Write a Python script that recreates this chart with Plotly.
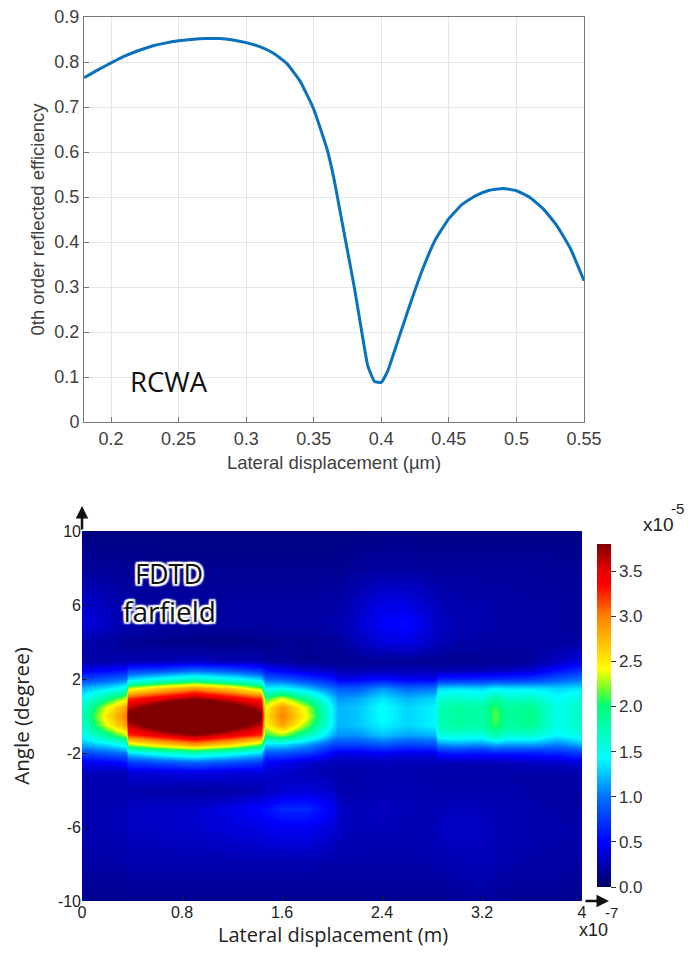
import numpy as np
import plotly.graph_objects as go

W, H = 692, 956

# --- RCWA line ---
rcwa_x = [.18,.19,.2,.21,.22,.23,.24,.25,.26,.27,.28,.29,.3,.31,.32,.33,.34,.35,.36,.365,.37,.375,.38,.385,.39,.395,.40,.405,.41,.42,.43,.44,.45,.46,.47,.48,.49,.5,.51,.52,.53,.54,.55]
rcwa_y = [.765,.782,.798,.813,.825,.835,.842,.847,.85,.852,.852,.849,.843,.834,.82,.797,.757,.695,.605,.54,.46,.38,.30,.21,.125,.09,.088,.115,.16,.25,.335,.405,.452,.484,.503,.515,.519,.514,.499,.473,.436,.385,.314]
rcwa_xticks = [.2,.25,.3,.35,.4,.45,.5,.55]
rcwa_xlabels = ["0.2","0.25","0.3","0.35","0.4","0.45","0.5","0.55"]
rcwa_yticks = [0,.1,.2,.3,.4,.5,.6,.7,.8,.9]
rcwa_ylabels = ["0","0.1","0.2","0.3","0.4","0.5","0.6","0.7","0.8","0.9"]

# --- FDTD far-field map (units: x 1e-7 m, angle degree, value 1e-5) ---
fd_x = [0,.2,.35,.37,.6,.9,1.2,1.43,1.46,1.6,1.8,2.02,2.05,2.2,2.4,2.6,2.82,2.85,3.0,3.2,3.3,3.4,3.6,3.8,4.0]
fd_y = [10,8,6,5,4,3,2.5,2,1.5,1,.5,0,-.5,-1,-1.5,-2,-2.5,-3,-4,-5,-6,-8,-10]
col00 = [.1,.18,.34,.38,.24,.22,.45,.8,1.2,1.45,1.6,1.7,1.6,1.45,1.2,.8,.45,.28,.24,.24,.24,.22,.14]
col01 = [.1,.17,.28,.32,.2,.22,.5,.9,1.35,1.9,2.4,2.55,2.4,1.9,1.35,.9,.5,.28,.24,.26,.26,.22,.14]
col02 = [.1,.16,.22,.24,.16,.25,.55,1.0,1.55,2.3,2.85,3.0,2.85,2.3,1.55,1.0,.55,.28,.24,.28,.28,.22,.14]
col03 = [.1,.16,.22,.24,.16,.25,.75,1.3,2.3,3.2,3.6,3.9,3.6,3.2,2.3,1.3,.75,.38,.26,.3,.3,.24,.15]
col04 = [.1,.15,.2,.22,.14,.25,.8,1.5,2.6,3.45,4.0,4.4,4.0,3.45,2.6,1.5,.85,.38,.22,.32,.32,.24,.15]
col05 = [.1,.15,.2,.2,.12,.3,.95,1.7,2.9,3.75,4.6,5.0,4.6,3.75,2.9,1.7,.95,.42,.2,.34,.34,.24,.15]
col06 = [.1,.15,.2,.2,.12,.25,.85,1.5,2.6,3.45,4.0,4.4,4.0,3.45,2.6,1.5,.85,.38,.22,.42,.38,.24,.15]
col07 = [.1,.15,.2,.2,.14,.25,.7,1.3,2.2,3.2,3.6,3.9,3.6,3.2,2.2,1.3,.75,.38,.26,.52,.42,.24,.15]
col08 = [.1,.15,.2,.2,.14,.2,.55,.95,1.4,2.05,2.4,2.5,2.4,2.05,1.35,.85,.5,.33,.28,.54,.44,.24,.15]
col09 = [.1,.15,.2,.22,.15,.2,.45,.9,1.45,2.35,2.9,3.0,2.85,2.25,1.35,.85,.45,.33,.34,.66,.46,.24,.15]
col10 = [.1,.15,.2,.22,.15,.15,.35,.75,1.25,1.85,2.3,2.4,2.2,1.75,1.15,.75,.35,.28,.38,.66,.46,.24,.15]
col11 = [.1,.15,.22,.24,.18,.15,.3,.55,.95,1.2,1.3,1.3,1.3,1.15,.8,.45,.28,.24,.32,.44,.36,.22,.15]
col12 = [.1,.15,.22,.24,.18,.15,.25,.42,.9,1.1,1.2,1.2,1.2,1.1,.8,.42,.28,.22,.24,.32,.32,.22,.15]
col13 = [.11,.18,.3,.34,.28,.15,.25,.46,.9,1.15,1.25,1.25,1.25,1.1,.8,.42,.28,.22,.24,.28,.28,.22,.15]
col14 = [.12,.2,.42,.48,.38,.17,.25,.55,1.1,1.35,1.45,1.45,1.4,1.25,.9,.46,.28,.24,.26,.3,.28,.22,.15]
col15 = [.12,.2,.42,.52,.42,.17,.25,.46,.95,1.2,1.3,1.3,1.3,1.15,.8,.42,.28,.24,.26,.28,.26,.22,.15]
col16 = [.12,.18,.3,.34,.3,.15,.25,.46,1.0,1.3,1.4,1.4,1.4,1.2,.85,.42,.27,.22,.24,.26,.28,.24,.15]
col17 = [.12,.18,.28,.32,.28,.15,.25,.65,1.3,1.6,1.75,1.75,1.75,1.55,1.1,.55,.28,.22,.24,.26,.3,.24,.15]
col18 = [.12,.18,.24,.26,.22,.15,.25,.65,1.35,1.65,1.85,1.85,1.85,1.6,1.15,.6,.28,.22,.24,.3,.32,.26,.16]
col19 = [.12,.18,.24,.24,.22,.15,.27,.67,1.3,1.6,1.8,1.8,1.8,1.55,1.1,.55,.28,.22,.24,.28,.3,.28,.19]
col20 = [.12,.18,.22,.24,.2,.17,.3,.7,1.4,1.85,2.1,2.15,2.1,1.8,1.2,.6,.28,.22,.24,.26,.28,.26,.17]
col21 = [.12,.18,.22,.22,.2,.17,.3,.7,1.35,1.65,1.85,1.85,1.85,1.6,1.15,.6,.28,.22,.24,.26,.26,.24,.15]
col22 = [.12,.18,.2,.22,.2,.19,.35,.75,1.35,1.7,1.9,1.95,1.9,1.65,1.15,.6,.3,.22,.22,.24,.24,.22,.15]
col23 = [.12,.17,.2,.2,.2,.3,.55,.9,1.3,1.45,1.5,1.5,1.5,1.4,1.05,.65,.33,.22,.22,.22,.24,.22,.15]
col24 = [.12,.16,.18,.18,.2,.4,.7,1.0,1.35,1.6,1.7,1.7,1.7,1.55,1.2,.75,.38,.24,.2,.2,.22,.2,.13]
fd_columns = [col00,col01,col02,col03,col04,col05,col06,col07,col08,col09,col10,col11,col12,
              col13,col14,col15,col16,col17,col18,col19,col20,col21,col22,col23,col24]
fd_z = np.array(fd_columns).T.tolist()
fd_xticks = [0,.8,1.6,2.4,3.2,4]
fd_xlabels = ["0","0.8","1.6","2.4","3.2","4"]
fd_yticks = [10,6,2,-2,-6,-10]
fd_ylabels = ["10","6","2","-2","-6","-10"]
cb_ticks = [0,.5,1,1.5,2,2.5,3,3.5]
cb_labels = ["0.0","0.5","1.0","1.5","2.0","2.5","3.0","3.5"]

jet = [[0,"#000060"],[.13,"#0000ff"],[.26,"#006eff"],[.375,"#00ffff"],[.53,"#00ff78"],[.57,"#60ff30"],
       [.635,"#ffff00"],[.79,"#ff8000"],[.88,"#ff0000"],[.93,"#e00000"],[1,"#800000"]]

def fx(p): return p / W
def fy(p): return 1 - p / H

SANS = "Liberation Sans"
GREY = "#404040"

fig = go.Figure()
fig.add_trace(go.Scatter(x=rcwa_x, y=rcwa_y, mode="lines", xaxis="x", yaxis="y",
                         line=dict(color="#0a72bd", width=3, shape="spline", smoothing=.4),
                         showlegend=False))
fig.add_trace(go.Heatmap(x=fd_x, y=fd_y, z=fd_z, xaxis="x2", yaxis="y2", zmin=0, zmax=3.8,
                         zsmooth="best", colorscale=jet,
                         colorbar=dict(x=fx(597), xanchor="left", y=fy(887), yanchor="bottom",
                                       lenmode="pixels", len=343, thicknessmode="pixels", thickness=14,
                                       xpad=0, ypad=0, outlinewidth=0,
                                       tickmode="array", tickvals=cb_ticks, ticktext=cb_labels,
                                       ticks="outside", ticklen=5, tickcolor="#333333", tickwidth=1,
                                       tickfont=dict(family=SANS, size=17, color="#333333"))))

fig.update_layout(
    width=W, height=H, autosize=False, margin=dict(l=0, r=0, t=0, b=0, autoexpand=False),
    paper_bgcolor="white", plot_bgcolor="white", showlegend=False,
    xaxis=dict(domain=[fx(84), fx(584)], anchor="y", range=[.18, .55],
               tickmode="array", tickvals=rcwa_xticks, ticktext=rcwa_xlabels,
               ticks="inside", ticklen=5, tickcolor="#777777",
               showgrid=True, gridcolor="#e6e6e6", zeroline=False,
               showline=True, linecolor="#777777", linewidth=1, mirror=True,
               tickfont=dict(family=SANS, size=18, color=GREY),
               title=dict(text="Lateral displacement (µm)", standoff=8,
                          font=dict(family=SANS, size=18.5, color=GREY))),
    yaxis=dict(domain=[fy(422), fy(17)], anchor="x", range=[0, .9],
               tickmode="array", tickvals=rcwa_yticks, ticktext=rcwa_ylabels,
               ticks="inside", ticklen=5, tickcolor="#777777",
               showgrid=True, gridcolor="#e6e6e6", zeroline=False,
               showline=True, linecolor="#777777", linewidth=1, mirror=True,
               tickfont=dict(family=SANS, size=18, color=GREY),
               title=dict(text="0th order reflected efficiency", standoff=4,
                          font=dict(family=SANS, size=18.5, color=GREY))),
    xaxis2=dict(domain=[fx(82), fx(582)], anchor="y2", range=[0, 4],
                tickmode="array", tickvals=fd_xticks, ticktext=fd_xlabels,
                ticks="inside", ticklen=5, tickcolor="#222222",
                showgrid=False, zeroline=False, showline=False,
                tickfont=dict(family=SANS, size=16, color="#222222")),
    yaxis2=dict(domain=[fy(901), fy(531)], anchor="x2", range=[-10, 10],
                tickmode="array", tickvals=fd_yticks, ticktext=fd_ylabels,
                ticks="inside", ticklen=5, tickcolor="#222222",
                showgrid=False, zeroline=False, showline=False,
                tickfont=dict(family=SANS, size=16, color="#222222"),
                title=dict(text="Angle (degree)", standoff=22,
                           font=dict(family="Open Sans", size=20.5, color="#222222"))),
)

halo = ", ".join(f"{a}px {b}px 1.5px white" for a, b in
                 [(-2,0),(2,0),(0,-2),(0,2),(-2,-2),(2,2),(-2,2),(2,-2)])

def note(text, px, py, size, family=SANS, color="#222222", shadow=None, anchor="center"):
    f = dict(family=family, size=size, color=color)
    if shadow:
        f["shadow"] = shadow
    fig.add_annotation(text=text, x=fx(px), y=fy(py), xref="paper", yref="paper",
                       showarrow=False, font=f, xanchor=anchor, yanchor="middle")

note("RCWA", 169, 381, 27.5, family="Open Sans", color="#111111")
note("FDTD", 169, 573, 27, family="Open Sans", color="#111111", shadow=halo)
note("farfield", 169, 611, 28, family="Open Sans", color="#111111", shadow=halo)
note("Lateral displacement (m)", 333, 934, 20, family="Open Sans")
note("x10", 658, 524, 19)
note("-5", 677, 508, 15)
note("x10", 593, 930, 18)
note("-7", 611, 912, 15)

# axis arrows of the map panel
fig.add_annotation(x=fx(82), y=fy(506), ax=0, ay=25, xref="paper", yref="paper",
                   axref="pixel", ayref="pixel", text="", showarrow=True, arrowhead=2,
                   arrowsize=1, arrowwidth=2.5, arrowcolor="#111111")
fig.add_annotation(x=fx(609), y=fy(901), ax=-25, ay=0, xref="paper", yref="paper",
                   axref="pixel", ayref="pixel", text="", showarrow=True, arrowhead=2,
                   arrowsize=1, arrowwidth=2.5, arrowcolor="#111111")

fig.write_html("out.html", config=dict(displayModeBar=False),
               post_script="document.body.style.margin='0px';")
